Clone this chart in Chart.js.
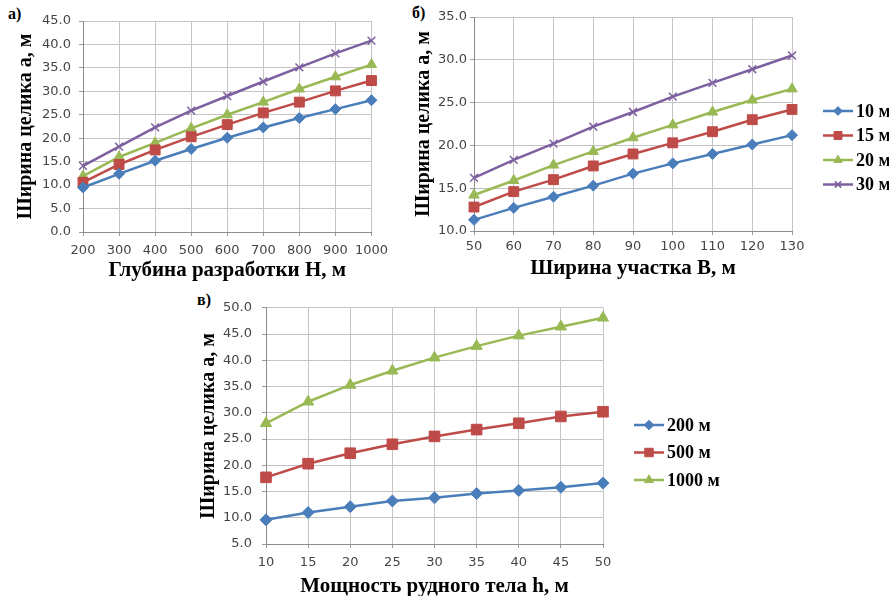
<!DOCTYPE html>
<html lang="ru">
<head>
<meta charset="utf-8">
<title>Ширина целика</title>
<script src="https://cdn.jsdelivr.net/npm/chart.js@4.4.1/dist/chart.umd.min.js"></script>
<style>
  html, body { margin: 0; padding: 0; background: #fff; }
  body { width: 889px; height: 596px; position: relative; overflow: hidden; }
  canvas { position: absolute; }
  .tag { position: absolute; font: bold 16px "Liberation Serif", serif; color: #000; line-height: 1; }
</style>
</head>
<body>
<div class="tag" style="left:8px;top:6px">а)</div>
<div class="tag" style="left:412px;top:5px">б)</div>
<div class="tag" style="left:197px;top:292px">в)</div>
<canvas id="chartA" width="395" height="290" style="left:0;top:0"></canvas>
<canvas id="chartB" width="489" height="290" style="left:400px;top:0"></canvas>
<canvas id="chartC" width="560" height="310" style="left:190px;top:290px"></canvas>
<script>
// a) width vs depth of mining
const depthLabels = [200, 300, 400, 500, 600, 700, 800, 900, 1000]
const depth10 = [9.5, 12.4, 15.2, 17.7, 20.1, 22.3, 24.3, 26.2, 28.1]
const depth15 = [10.6, 14.4, 17.5, 20.3, 22.9, 25.4, 27.7, 30.1, 32.3]
const depth20 = [11.9, 16.0, 19.0, 22.1, 25.0, 27.7, 30.5, 33.1, 35.7]
const depth30 = [14.1, 18.2, 22.3, 25.9, 29.0, 32.1, 35.1, 38.1, 40.8]

// b) width vs section width
const sectionLabels = [50, 60, 70, 80, 90, 100, 110, 120, 130]
const section10 = [11.3, 12.7, 14.0, 15.3, 16.7, 17.9, 19.0, 20.1, 21.2]
const section15 = [12.8, 14.6, 16.0, 17.6, 19.0, 20.3, 21.6, 23.0, 24.2]
const section20 = [14.2, 15.9, 17.7, 19.3, 20.9, 22.4, 23.9, 25.3, 26.6]
const section30 = [16.2, 18.3, 20.2, 22.2, 23.9, 25.7, 27.3, 28.9, 30.5]

// c) width vs ore body thickness
const thicknessLabels = [10, 15, 20, 25, 30, 35, 40, 45, 50]
const thick200 = [9.6, 11.0, 12.1, 13.2, 13.8, 14.6, 15.2, 15.8, 16.6]
const thick500 = [17.7, 20.3, 22.3, 24.0, 25.5, 26.8, 28.0, 29.3, 30.2]
const thick1000 = [28.0, 32.1, 35.3, 38.0, 40.5, 42.7, 44.7, 46.4, 48.1]

const seriesNames4 = ['10 м', '15 м', '20 м', '30 м']
const seriesNames3 = ['200 м', '500 м', '1000 м']

const BLUE = '#4a7ebb'
const RED = '#be4b48'
const GREEN = '#98b954'
const PURPLE = '#7d60a0'

const tickFont = { family: '"DejaVu Sans", sans-serif', size: 13 }
const xTitleFont = { family: '"Liberation Serif", serif', size: 21, weight: 'bold' }
const yTitleFont = { family: '"Liberation Serif", serif', size: 20, weight: 'bold' }

function series(label, data, color, style, radius) {
  return {
    label: label,
    data: data,
    borderColor: color,
    backgroundColor: color,
    borderWidth: 2.5,
    pointStyle: style,
    pointRadius: radius,
    pointBackgroundColor: color,
    pointBorderColor: color,
    pointBorderWidth: style === 'crossRot' ? 1.5 : 1,
    tension: 0
  }
}

// legend drawn as line + marker + label, like the source figure
const lineLegend = {
  id: 'lineLegend',
  afterDraw(chart, args, opts) {
    if (!opts || !opts.show) return
    const ctx = chart.ctx
    chart.data.datasets.forEach((ds, i) => {
      const y = opts.top + i * opts.gap
      ctx.save()
      ctx.strokeStyle = ds.borderColor
      ctx.lineWidth = 2.5
      ctx.beginPath()
      ctx.moveTo(opts.left, y)
      ctx.lineTo(opts.left + opts.lineLen, y)
      ctx.stroke()
      ctx.fillStyle = ds.pointBackgroundColor
      ctx.strokeStyle = ds.pointBorderColor
      ctx.lineWidth = ds.pointBorderWidth
      Chart.helpers.drawPoint(ctx, {
        pointStyle: ds.pointStyle,
        radius: ds.pointRadius * 0.8,
        borderWidth: ds.pointBorderWidth,
        rotation: 0
      }, opts.left + opts.lineLen / 2, y)
      ctx.fillStyle = '#000'
      ctx.font = 'bold 18px "Liberation Serif", serif'
      ctx.textAlign = 'left'
      ctx.textBaseline = 'middle'
      ctx.fillText(ds.label, opts.left + opts.lineLen + 3, y + 1)
      ctx.restore()
    })
  }
}

function makeChart(id, cfg) {
  return new Chart(document.getElementById(id), {
    type: 'line',
    data: { labels: cfg.labels, datasets: cfg.datasets },
    plugins: [lineLegend],
    options: {
      responsive: false,
      animation: false,
      layout: { padding: { top: cfg.padTop, right: cfg.padRight, left: 0, bottom: 0 } },
      plugins: {
        legend: { display: false },
        tooltip: { enabled: false },
        lineLegend: cfg.legend || { show: false }
      },
      scales: {
        x: {
          type: 'category',
          offset: false,
          afterFit(scale) { scale.height = cfg.xHeight },
          grid: { color: '#c4c4c4', tickLength: 4, offset: false, tickColor: '#9a9a9a' },
          border: { color: '#8c8c8c', width: 1 },
          ticks: { font: tickFont, color: '#454545', padding: cfg.xPad, maxRotation: 0, autoSkip: false },
          title: { display: true, text: cfg.xTitle, font: xTitleFont, color: '#000', padding: { top: 0, bottom: cfg.xTitlePad } }
        },
        y: {
          min: cfg.yMin,
          max: cfg.yMax,
          afterFit(scale) { scale.width = cfg.yWidth },
          grid: { color: '#c4c4c4', tickLength: 4, tickColor: '#9a9a9a' },
          border: { color: '#8c8c8c', width: 1 },
          ticks: {
            stepSize: 5,
            font: tickFont,
            color: '#454545',
            padding: cfg.yPad,
            callback: v => v.toFixed(1)
          },
          title: { display: true, text: 'Ширина целика a, м', font: yTitleFont, color: '#000', padding: { top: cfg.yTitlePad, bottom: 0 } }
        }
      }
    }
  })
}

makeChart('chartA', {
  labels: depthLabels,
  datasets: [
    series(seriesNames4[0], depth10, BLUE, 'rectRot', 5.5),
    series(seriesNames4[1], depth15, RED, 'rect', 7),
    series(seriesNames4[2], depth20, GREEN, 'triangle', 6),
    series(seriesNames4[3], depth30, PURPLE, 'crossRot', 5.5)
  ],
  xTitle: 'Глубина разработки H, м',
  yMin: 0, yMax: 45,
  padTop: 21, padRight: 21,
  yWidth: 83, xHeight: 58,
  xPad: 7, yPad: 8,
  xTitlePad: 7, yTitlePad: 14
})

makeChart('chartB', {
  labels: sectionLabels,
  datasets: [
    series(seriesNames4[0], section10, BLUE, 'rectRot', 5.5),
    series(seriesNames4[1], section15, RED, 'rect', 7),
    series(seriesNames4[2], section20, GREEN, 'triangle', 6),
    series(seriesNames4[3], section30, PURPLE, 'crossRot', 5.5)
  ],
  xTitle: 'Ширина участка B, м',
  yMin: 10, yMax: 35,
  padTop: 17, padRight: 97,
  yWidth: 74, xHeight: 59,
  xPad: 4, yPad: 3,
  xTitlePad: 9, yTitlePad: 12,
  legend: { show: true, left: 423, top: 111, gap: 24.5, lineLen: 30 }
})

makeChart('chartC', {
  labels: thicknessLabels,
  datasets: [
    series(seriesNames3[0], thick200, BLUE, 'rectRot', 6),
    series(seriesNames3[1], thick500, RED, 'rect', 7.5),
    series(seriesNames3[2], thick1000, GREEN, 'triangle', 6.5)
  ],
  xTitle: 'Мощность рудного тела h, м',
  yMin: 5, yMax: 50,
  padTop: 16, padRight: 147,
  yWidth: 76, xHeight: 56,
  xPad: 7, yPad: 10,
  xTitlePad: 1, yTitlePad: 7,
  legend: { show: true, left: 444, top: 135, gap: 27.5, lineLen: 30 }
})
</script>
</body>
</html>
